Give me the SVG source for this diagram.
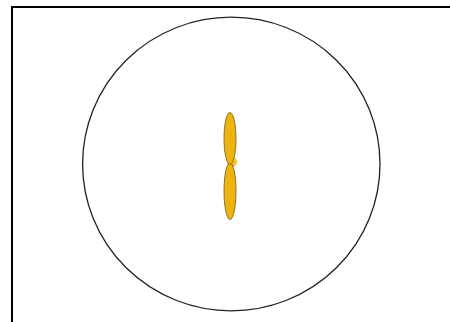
<svg xmlns="http://www.w3.org/2000/svg" width="450" height="322" viewBox="0 0 450 322">
<style>
.blade{fill:#EDB30E;stroke:#7a5a10;stroke-width:0.8}
</style>
<rect x="0" y="0" width="450" height="322" fill="#fff"/>
<path d="M12 322 V7 H450" fill="none" stroke="#000" stroke-width="2"/>
<g id="disc"><ellipse cx="231.3" cy="164" rx="148.7" ry="146.8" fill="none" stroke="#222" stroke-width="1.3"/></g>
<g id="propeller">
<circle cx="232" cy="162" r="5" fill="#F6C030"/>
<ellipse class="blade" cx="230" cy="191" rx="6" ry="28.5"/>
<ellipse class="blade" cx="230" cy="138.5" rx="6" ry="26"/>
</g>
</svg>
